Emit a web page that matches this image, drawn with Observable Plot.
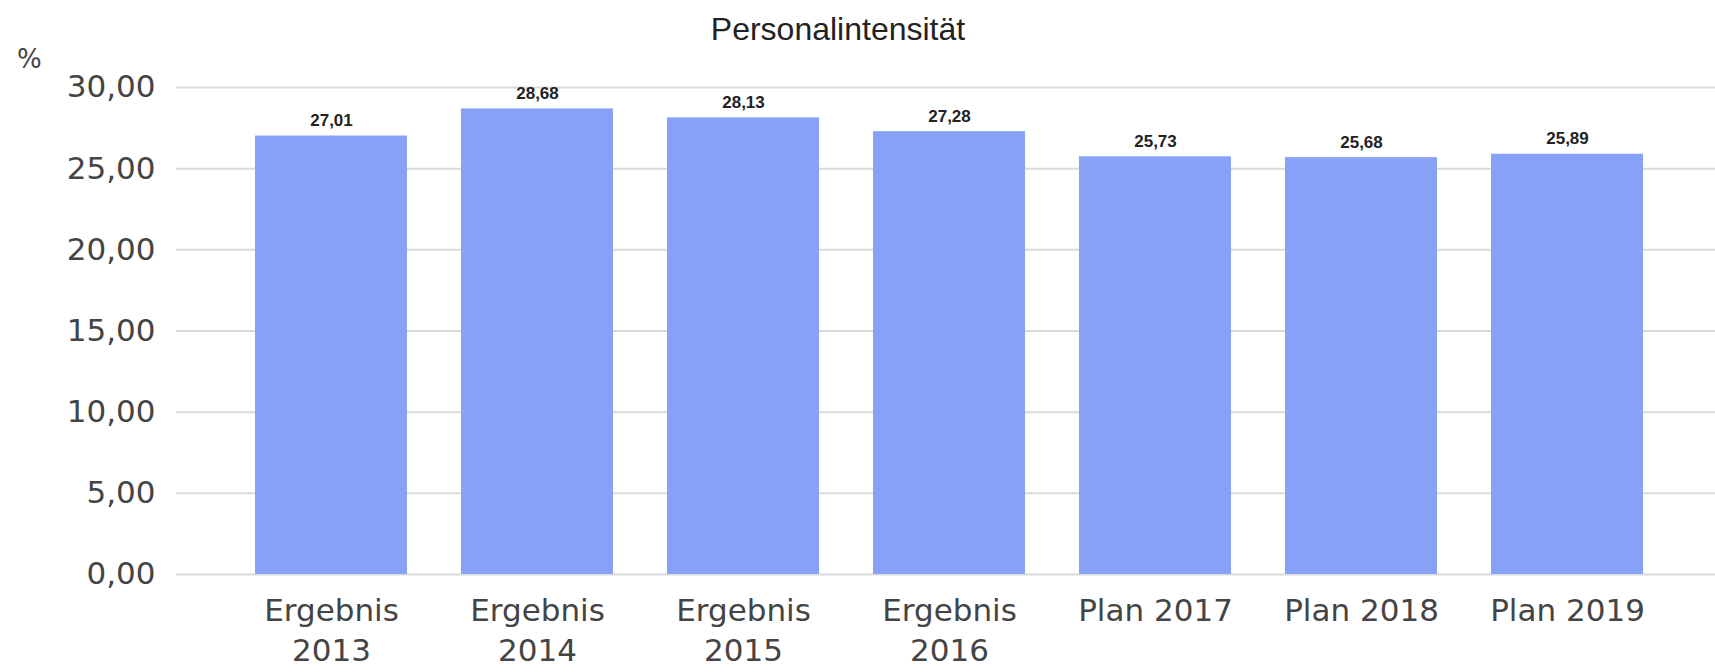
<!DOCTYPE html>
<html>
<head>
<meta charset="utf-8">
<script src="https://cdn.jsdelivr.net/npm/d3@7"></script>
<script src="https://cdn.jsdelivr.net/npm/@observablehq/plot@0.6"></script>
<style>
  html, body { margin: 0; padding: 0; background: #fff; width: 1715px; height: 672px; overflow: hidden; }
  #wrap { position: relative; width: 1715px; height: 672px; }
  #chart { position: absolute; top: 45px; left: 0; z-index: 0; }
  #title { position: absolute; top: 13px; left: 838px; transform: translateX(-50%); font-family: "Liberation Sans", Arial, sans-serif; font-size: 32px; line-height: 1; color: #222; white-space: nowrap; z-index: 1; }
  #unit { position: absolute; top: 44px; left: 17px; font-family: "DejaVu Sans", sans-serif; font-size: 26px; line-height: 1.2; color: #444; z-index: 1; }
</style>
</head>
<body>
<div id="wrap">
  <div id="chart"></div>
  <div id="title">Personalintensität</div>
  <div id="unit">%</div>
</div>
<script>
const categories = ["Ergebnis 2013", "Ergebnis 2014", "Ergebnis 2015", "Ergebnis 2016", "Plan 2017", "Plan 2018", "Plan 2019"];
const tickLabels = ["Ergebnis\n2013", "Ergebnis\n2014", "Ergebnis\n2015", "Ergebnis\n2016", "Plan 2017", "Plan 2018", "Plan 2019"];
const values = [27.01, 28.68, 28.13, 27.28, 25.73, 25.68, 25.89];
const yTicks = [0, 5, 10, 15, 20, 25, 30];

const data = categories.map((c, i) => ({cat: c, value: values[i]}));
const labelMap = new Map(categories.map((c, i) => [c, tickLabels[i]]));
const fmt = v => v.toFixed(2).replace(".", ",");

const chart = Plot.plot({
  width: 1715,
  height: 627,
  marginLeft: 176,
  marginRight: 0,
  marginTop: 42,
  marginBottom: 98,
  style: {background: "white", fontFamily: "'DejaVu Sans', sans-serif"},
  x: {domain: categories, padding: 0.26, insetLeft: 24, insetRight: 16, label: null},
  y: {domain: [0, 30], label: null},
  marks: [
    Plot.ruleY(yTicks, {stroke: "#dadada", strokeWidth: 2}),
    Plot.barY(data, {x: "cat", y: "value", fill: "#87a1f7"}),
    Plot.text(data, {
      x: "cat", y: "value", text: d => fmt(d.value),
      dy: -10, lineAnchor: "bottom",
      fontWeight: "bold", fontSize: 17, fontFamily: "'Liberation Sans', Arial, sans-serif", fill: "#222"
    }),
    Plot.axisY({ticks: yTicks, tickSize: 0, tickPadding: 21, tickFormat: fmt, fontSize: 31, fill: "#444", label: null}),
    Plot.axisX({tickSize: 0, tickPadding: 17, tickFormat: d => labelMap.get(d), fontSize: 31, lineHeight: 1.32, fill: "#444", label: null})
  ]
});
document.getElementById("chart").appendChild(chart);
</script>
</body>
</html>
